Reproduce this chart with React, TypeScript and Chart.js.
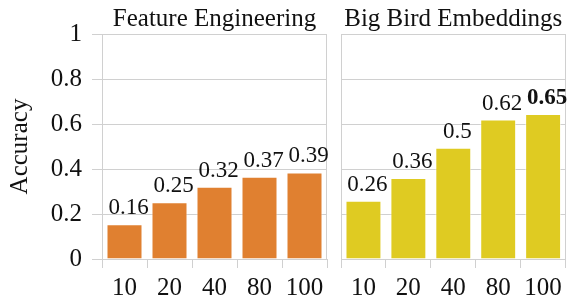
import React, { useEffect, useRef } from "react";
import { Chart, registerables } from "chart.js";

Chart.register(...registerables);

const CATEGORIES = ["10", "20", "40", "80", "100"];
const FE_VALUES = [0.155, 0.252, 0.321, 0.366, 0.385];
const FE_LABELS = ["0.16", "0.25", "0.32", "0.37", "0.39"];
const FE_BOLD = [false, false, false, false, false];
const BB_VALUES = [0.259, 0.36, 0.495, 0.62, 0.645];
const BB_LABELS = ["0.26", "0.36", "0.5", "0.62", "0.65"];
const BB_BOLD = [false, false, false, false, true];
const PANEL_TITLES = ["Feature Engineering", "Big Bird Embeddings"];
const Y_TITLE = "Accuracy";
const Y_MIN = 0;
const Y_MAX = 1;
const Y_STEP = 0.2;

const FONT = '"Liberation Serif", "Times New Roman", serif';
const GRID = "#d0d0d0";
const TEXT = "#111111";
const ORANGE = "#e08030";
const YELLOW = "#dfcb22";

function makeLabelPlugin(labels: string[], bold: boolean[]) {
  return {
    id: "valueLabels",
    afterDatasetsDraw(chart: any) {
      const ctx = chart.ctx;
      const meta = chart.getDatasetMeta(0);
      meta.data.forEach((bar: any, i: number) => {
        ctx.save();
        ctx.font = `${bold[i] ? "bold " : ""}23px ${FONT}`;
        ctx.fillStyle = TEXT;
        ctx.textAlign = "center";
        ctx.textBaseline = "alphabetic";
        ctx.fillText(labels[i], bar.x + 4, bar.y - 10);
        ctx.restore();
      });
    },
  };
}

const framePlugin = {
  id: "frame",
  beforeDatasetsDraw(chart: any) {
    const { left, top, right, bottom } = chart.chartArea;
    const ctx = chart.ctx;
    ctx.save();
    ctx.strokeStyle = GRID;
    ctx.lineWidth = 1;
    const l = Math.round(left) + 0.5;
    const t = Math.round(top) + 0.5;
    const r = Math.round(right) - 0.5;
    const b = Math.round(bottom) + 0.5;
    ctx.strokeRect(l, t, r - l, b - t);
    ctx.restore();
  },
};

function makeConfig(
  values: number[],
  labels: string[],
  bold: boolean[],
  color: string,
  title: string,
  first: boolean
): any {
  return {
    type: "bar",
    data: {
      labels: CATEGORIES,
      datasets: [
        {
          data: values,
          backgroundColor: color,
          borderColor: "rgba(255,255,255,0.55)",
          borderWidth: 1,
          categoryPercentage: 1,
          barPercentage: 0.8,
        },
      ],
    },
    plugins: [framePlugin, makeLabelPlugin(labels, bold)],
    options: {
      responsive: false,
      animation: false,
      layout: {
        padding: first
          ? { left: 0, right: 6, top: 0, bottom: 0 }
          : { left: 8, right: 1, top: 0, bottom: 0 },
      },
      plugins: {
        legend: { display: false },
        tooltip: { enabled: false },
        title: {
          display: true,
          text: title,
          fullSize: false,
          color: TEXT,
          font: { family: FONT, size: 25, weight: "normal", lineHeight: 1.2 },
          padding: { top: 4, bottom: 0 },
        },
      },
      scales: {
        x: {
          grid: {
            drawOnChartArea: false,
            drawTicks: true,
            tickLength: 9,
            color: GRID,
          },
          border: { display: false },
          ticks: {
            color: TEXT,
            font: { family: FONT, size: 25 },
            padding: 5,
            maxRotation: 0,
          },
          afterFit: (s: any) => {
            s.height = 40;
          },
        },
        y: {
          min: Y_MIN,
          max: Y_MAX,
          border: { display: false },
          grid: {
            color: GRID,
            drawTicks: first,
            tickLength: 10,
          },
          ticks: {
            display: first,
            stepSize: Y_STEP,
            color: TEXT,
            font: { family: FONT, size: 25 },
            padding: 10,
            callback: (v: any) => String(Math.round(Number(v) * 10) / 10),
          },
          title: {
            display: first,
            text: Y_TITLE,
            color: TEXT,
            font: { family: FONT, size: 25, lineHeight: 1.2 },
            padding: { top: 5, bottom: 0 },
          },
          afterFit: (s: any) => {
            s.width = first ? 102 : 0;
          },
        },
      },
    },
  };
}

export default function App() {
  const ref1 = useRef<HTMLCanvasElement>(null);
  const ref2 = useRef<HTMLCanvasElement>(null);

  useEffect(() => {
    const c1 = new Chart(
      ref1.current!,
      makeConfig(FE_VALUES, FE_LABELS, FE_BOLD, ORANGE, PANEL_TITLES[0], true)
    );
    const c2 = new Chart(
      ref2.current!,
      makeConfig(BB_VALUES, BB_LABELS, BB_BOLD, YELLOW, PANEL_TITLES[1], false)
    );
    return () => {
      c1.destroy();
      c2.destroy();
    };
  }, []);

  return (
    <div
      style={{
        position: "fixed",
        left: 0,
        top: 0,
        width: 567,
        height: 299,
        background: "#ffffff",
        overflow: "hidden",
      }}
    >
      <canvas
        ref={ref1}
        width={333}
        height={299}
        style={{ position: "absolute", left: 0, top: 0, width: 333, height: 299 }}
      />
      <canvas
        ref={ref2}
        width={234}
        height={299}
        style={{ position: "absolute", left: 333, top: 0, width: 234, height: 299 }}
      />
    </div>
  );
}
